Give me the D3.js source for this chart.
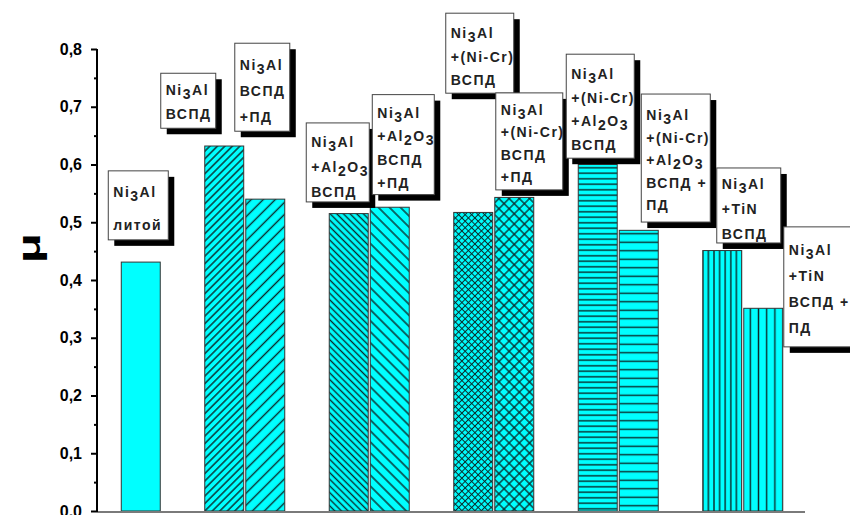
<!DOCTYPE html>
<html><head><meta charset="utf-8">
<script src="https://cdn.jsdelivr.net/npm/d3@7"></script>
<style>
html,body{margin:0;padding:0;background:#fff;}
svg{display:block;}
text{font-family:"Liberation Sans",Arial,sans-serif;font-weight:bold;}
</style></head>
<body>
<svg id="chart" width="850" height="515"></svg>
<script>
// ---- data ----
const groups = ["Ni3Al литой", "Ni3Al", "Ni3Al+Al2O3", "Ni3Al+(Ni-Cr)", "Ni3Al+(Ni-Cr)+Al2O3", "Ni3Al+TiN"];
const slots = ["ВСПД", "ВСПД+ПД"];
const valuesVSPD   = [null, 0.632, 0.515, 0.517, 0.600, 0.451];
const valuesVSPDPD = [0.431, 0.540, 0.526, 0.543, 0.486, 0.351];
const yTicks = [0, 0.1, 0.2, 0.3, 0.4, 0.5, 0.6, 0.7, 0.8];
const yMinorTicks = [0.05, 0.15, 0.25, 0.35, 0.45, 0.55, 0.65, 0.75];
const yLabel = "μ";
// label text per bar (group, slot); "_" marks a subscript character
const barLabels = [
  [null, ["Ni_3Al", "литой"]],
  [["Ni_3Al", "ВСПД"], ["Ni_3Al", "ВСПД", "+ПД"]],
  [["Ni_3Al", "+Al_2O_3", "ВСПД"], ["Ni_3Al", "+Al_2O_3", "ВСПД", "+ПД"]],
  [["Ni_3Al", "+(Ni-Cr)", "ВСПД"], ["Ni_3Al", "+(Ni-Cr)", "ВСПД", "+ПД"]],
  [["Ni_3Al", "+(Ni-Cr)", "+Al_2O_3", "ВСПД"], ["Ni_3Al", "+(Ni-Cr)", "+Al_2O_3", "ВСПД +", "ПД"]],
  [["Ni_3Al", "+TiN", "ВСПД"], ["Ni_3Al", "+TiN", "ВСПД +", "ПД"]]
];

// ---- styles / layout ----
const CYAN = "#00ffff";
const patternStyle = [
  [null, "none"],
  ["fwd-dense", "fwd-sparse"],
  ["back-dense", "back-sparse"],
  ["cross-dense", "cross-sparse"],
  ["hor-dense", "hor-sparse"],
  ["ver-dense", "ver-sparse"]
];
// annotation boxes: dx from bar left, top (in value units), width, height, first baseline offset, line height
const boxLayout = [
  [null, {dx:-13, top:0.589, w:60, h:69, off:26, lh:33}],
  [{dx:-44, top:0.758, w:55, h:55, off:22, lh:24}, {dx:-11, top:0.810, w:55, h:88, off:27, lh:26}],
  [{dx:-23, top:0.672, w:63, h:79, off:24, lh:25}, {dx:2, top:0.721, w:62, h:100, off:23, lh:23.5}],
  [{dx:-8, top:0.862, w:68, h:80, off:25, lh:23.5}, {dx:1, top:0.724, w:67, h:97, off:22, lh:22.5}],
  [{dx:-12, top:0.791, w:68, h:104, off:25, lh:23.5}, {dx:22, top:0.722, w:69, h:128, off:26, lh:22.5}],
  [{dx:14, top:0.594, w:64, h:75, off:21, lh:25}, {dx:40, top:0.492, w:70, h:120, off:28, lh:26}]
];

const svg = d3.select("#chart");
const y = d3.scaleLinear().domain([0, 0.8]).range([511, 49]);
const x = d3.scaleBand().domain(groups).range([58.25, 805.25]).padding(0);
const xs = d3.scaleBand().domain(slots).range([22, 102]).paddingInner(0.05).paddingOuter(0);

// ---- patterns ----
const defs = svg.append("defs");
const HC = "#0a2a2a";
function pat(id, size, rot, drawFn, sw) {
  const p = defs.append("pattern").attr("id", id).attr("patternUnits", "userSpaceOnUse")
    .attr("width", size).attr("height", size);
  if (rot) p.attr("patternTransform", `rotate(${rot})`);
  p.append("rect").attr("width", size).attr("height", size).attr("fill", CYAN);
  drawFn(p, size, sw);
}
const vline = (p, s, sw) => p.append("line").attr("x1", s/2).attr("x2", s/2).attr("y1", 0).attr("y2", s).attr("stroke", HC).attr("stroke-width", sw);
const hline = (p, s, sw) => p.append("line").attr("y1", s/2).attr("y2", s/2).attr("x1", 0).attr("x2", s).attr("stroke", HC).attr("stroke-width", sw);
const cross = (p, s, sw) => { vline(p, s, sw); hline(p, s, sw); };
pat("fwd-dense", 5.3, 45, vline, 1.4);
pat("fwd-sparse", 8.5, 45, vline, 1.4);
pat("back-dense", 4.7, -45, vline, 1.4);
pat("back-sparse", 7.8, -45, vline, 1.4);
pat("cross-dense", 4.6, 45, cross, 1.0);
pat("cross-sparse", 7.2, 45, cross, 1.3);
pat("hor-dense", 5.5, 0, hline, 1.4);
pat("hor-sparse", 8.5, 0, hline, 1.4);
pat("ver-dense", 5.6, 0, vline, 1.4);
pat("ver-sparse", 8.2, 0, vline, 1.4);

// ---- bars ----
const bars = [];
groups.forEach((g, gi) => {
  [valuesVSPD[gi], valuesVSPDPD[gi]].forEach((v, si) => {
    if (v == null) return;
    bars.push({g, gi, si, v});
  });
});
svg.append("g").selectAll("rect").data(bars).join("rect")
  .attr("x", d => x(d.g) + xs(slots[d.si]))
  .attr("width", xs.bandwidth())
  .attr("y", d => y(d.v))
  .attr("height", d => y(0) - y(d.v))
  .attr("fill", d => patternStyle[d.gi][d.si] === "none" ? CYAN : `url(#${patternStyle[d.gi][d.si]})`)
  .attr("stroke", "#333").attr("stroke-width", 1);

// ---- axes ----
svg.append("line").attr("x1", 97).attr("x2", 805).attr("y1", y(0) + 1).attr("y2", y(0) + 1)
  .attr("stroke", "#7a7a7a").attr("stroke-width", 2);

const yAxis = svg.append("g").attr("transform", "translate(97,0)")
  .call(d3.axisLeft(y).tickValues(yTicks).tickSize(6).tickPadding(9)
    .tickFormat(d => d3.format(".1f")(d).replace(".", ",")));
yAxis.select(".domain").attr("stroke", "#000").attr("stroke-width", 2).attr("d", `M0,${y(0.8)}V${y(0)+1}`);
yAxis.selectAll(".tick line").attr("stroke", "#000").attr("stroke-width", 2);
yAxis.selectAll(".tick text").attr("fill", "#000").style("font-size", "16px").style("font-weight", "bold")
  .style("font-family", "'Liberation Sans',Arial,sans-serif");
const yMinor = svg.append("g").attr("transform", "translate(97,0)")
  .call(d3.axisLeft(y).tickValues(yMinorTicks).tickSize(3).tickFormat(""));
yMinor.select(".domain").remove();
yMinor.selectAll(".tick line").attr("stroke", "#000").attr("stroke-width", 2);

svg.append("text").attr("transform", "translate(40,248) rotate(-90) scale(1.6,1)")
  .attr("text-anchor", "middle").style("font-size", "31px").attr("fill", "#000").text(yLabel);

// ---- annotation boxes ----
const ann = svg.append("g");
bars.forEach(d => {
  const L = boxLayout[d.gi][d.si], lines = barLabels[d.gi][d.si];
  if (!L || !lines) return;
  const bx = x(d.g) + xs(slots[d.si]) + L.dx, by = y(L.top);
  ann.append("rect").attr("x", bx + 6).attr("y", by + 6).attr("width", L.w).attr("height", L.h).attr("fill", "#000");
  ann.append("rect").attr("x", bx).attr("y", by).attr("width", L.w).attr("height", L.h)
    .attr("fill", "#fff").attr("stroke", "#444").attr("stroke-width", 1);
  lines.forEach((ln, li) => {
    const t = ann.append("text").attr("x", bx + 5).attr("y", by + L.off + li * L.lh)
      .style("font-size", "14px").style("letter-spacing", "1.5px").attr("fill", "#222");
    const parts = ln.split(/(_.)/).filter(s => s.length);
    let sub = false;
    parts.forEach(pt => {
      if (pt[0] === "_") {
        t.append("tspan").attr("dy", sub ? 0 : 4).text(pt[1]);
        sub = true;
      } else {
        t.append("tspan").attr("dy", sub ? -4 : 0).text(pt);
        sub = false;
      }
    });
  });
});
</script>
</body></html>
